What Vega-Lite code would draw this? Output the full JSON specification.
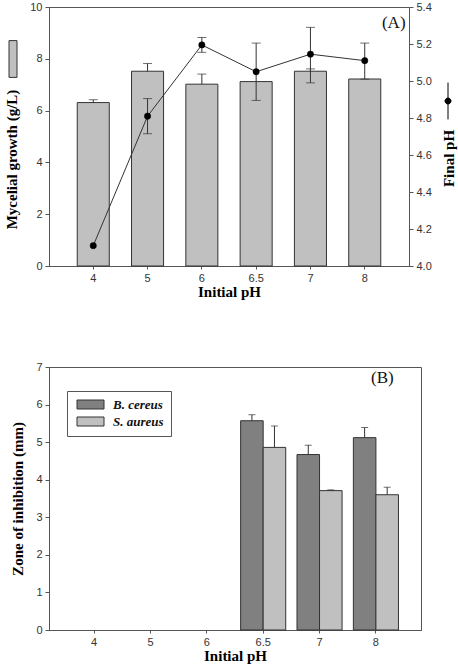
{
  "$schema": "https://vega.github.io/schema/vega-lite/v6.json",
  "padding": {"top": 0, "left": 4, "right": 0, "bottom": 0},
  "spacing": 60,
  "config": {
    "view": {"stroke": "#555", "strokeWidth": 1},
    "axis": {
      "grid": false,
      "labelFont": "Liberation Sans",
      "labelFontSize": 11,
      "labelColor": "#333",
      "labelOverlap": false,
      "titleFont": "Liberation Serif",
      "titleFontSize": 15,
      "titleFontWeight": "bold",
      "titleColor": "#000",
      "domainColor": "#555",
      "tickColor": "#555",
      "tickSize": 4,
      "labelPadding": 3
    }
  },
  "vconcat": [
    {
      "width": 360,
      "height": 259,
      "data": {
        "values": [
          {"pH": "4", "growth": 6.31, "growth_hi": 6.42, "final": 4.11, "final_lo": null, "final_hi": null},
          {"pH": "5", "growth": 7.52, "growth_hi": 7.82, "final": 4.81, "final_lo": 4.715, "final_hi": 4.905},
          {"pH": "6", "growth": 7.02, "growth_hi": 7.41, "final": 5.195, "final_lo": 5.155, "final_hi": 5.235},
          {"pH": "6.5", "growth": 7.12, "growth_hi": null, "final": 5.05, "final_lo": 4.895, "final_hi": 5.205},
          {"pH": "7", "growth": 7.52, "growth_hi": 7.61, "final": 5.145, "final_lo": 4.99, "final_hi": 5.29},
          {"pH": "8", "growth": 7.22, "growth_hi": null, "final": 5.11, "final_lo": 5.01, "final_hi": 5.205}
        ]
      },
      "encoding": {
        "x": {
          "field": "pH",
          "type": "nominal",
          "sort": null,
          "scale": {"paddingInner": 0.41, "paddingOuter": 0.52},
          "axis": {"title": "Initial pH", "labelAngle": 0, "tickSize": 3, "labelPadding": 3, "titlePadding": 1}
        }
      },
      "layer": [
        {
          "layer": [
            {
              "mark": {"type": "bar", "stroke": "#333", "strokeWidth": 1},
              "encoding": {
                "y": {
                  "field": "growth",
                  "type": "quantitative",
                  "title": "Mycelial growth (g/L)",
                  "scale": {"domain": [0, 10]},
                  "axis": {"values": [0, 2, 4, 6, 8, 10], "tickCount": 12, "format": "d", "labelOverlap": false, "titlePadding": 10, "titleY": 152}
                },
                "fill": {
                  "datum": "Mycelial growth",
                  "scale": {"range": ["#c0c0c0"]},
                  "legend": {
                    "orient": "none",
                    "legendX": -41,
                    "legendY": 47,
                    "title": null,
                    "labelExpr": "''",
                    "padding": 0,
                    "symbolType": "M-1,-4.6H1V4.6H-1Z",
                    "symbolSize": 64,
                    "symbolStrokeColor": "#333",
                    "symbolStrokeWidth": 1
                  }
                }
              }
            },
            {
              "mark": {"type": "rule", "color": "#333", "strokeWidth": 1},
              "encoding": {
                "y": {"field": "growth", "type": "quantitative", "title": "Mycelial growth (g/L)"},
                "y2": {"field": "growth_hi"}
              }
            },
            {
              "mark": {"type": "tick", "orient": "horizontal", "size": 9, "thickness": 1, "color": "#333"},
              "encoding": {
                "y": {"field": "growth_hi", "type": "quantitative", "title": "Mycelial growth (g/L)"}
              }
            },
            {
              "data": {"values": [{"label": "(A)"}]},
              "mark": {"type": "text", "font": "Liberation Serif", "fontSize": 17, "color": "#111", "dx": 29},
              "encoding": {
                "x": {"datum": "8"},
                "y": {"datum": 9.4, "type": "quantitative"},
                "text": {"field": "label"}
              }
            }
          ]
        },
        {
          "layer": [
            {
              "mark": {"type": "line", "color": "#333", "strokeWidth": 1},
              "encoding": {
                "y": {
                  "field": "final",
                  "type": "quantitative",
                  "title": "Final pH",
                  "scale": {"domain": [4.0, 5.4]},
                  "axis": {
                    "orient": "right",
                    "values": [4.0, 4.2, 4.4, 4.6, 4.8, 5.0, 5.2, 5.4],
                    "tickCount": 12,
                    "format": ".1f",
                    "labelOverlap": false,
                    "titleAngle": 270,
                    "titleY": 151,
                    "titlePadding": 25
                  }
                }
              }
            },
            {
              "mark": {"type": "rule", "color": "#333", "strokeWidth": 1},
              "encoding": {
                "y": {"field": "final_lo", "type": "quantitative", "title": "Final pH"},
                "y2": {"field": "final_hi"}
              }
            },
            {
              "mark": {"type": "tick", "orient": "horizontal", "size": 9, "thickness": 1, "color": "#333"},
              "encoding": {
                "y": {"field": "final_lo", "type": "quantitative", "title": "Final pH"}
              }
            },
            {
              "mark": {"type": "tick", "orient": "horizontal", "size": 9, "thickness": 1, "color": "#333"},
              "encoding": {
                "y": {"field": "final_hi", "type": "quantitative", "title": "Final pH"}
              }
            },
            {
              "mark": {"type": "point", "filled": true, "size": 40, "opacity": 1, "stroke": "#000", "strokeWidth": 0.5},
              "encoding": {
                "y": {"field": "final", "type": "quantitative", "title": "Final pH"},
                "fill": {
                  "datum": "Final pH",
                  "scale": {"range": ["#000"]},
                  "legend": {
                    "orient": "none",
                    "legendX": 394,
                    "legendY": 89,
                    "title": null,
                    "labelExpr": "''",
                    "padding": 0,
                    "symbolType": "M0,-4.6V4.6M0.75,0A0.75,0.75 0 1,1 -0.75,0A0.75,0.75 0 1,1 0.75,0Z",
                    "symbolSize": 64,
                    "symbolStrokeColor": "#000",
                    "symbolStrokeWidth": 1
                  }
                }
              }
            }
          ]
        }
      ],
      "resolve": {"scale": {"y": "independent", "fill": "independent"}, "legend": {"fill": "independent"}}
    },
    {
      "width": 372,
      "height": 263,
      "data": {
        "values": [
          {"pH": "6.5", "organism": "B. cereus", "zone": 5.57, "zone_hi": 5.73},
          {"pH": "6.5", "organism": "S. aureus", "zone": 4.86, "zone_hi": 5.43},
          {"pH": "7", "organism": "B. cereus", "zone": 4.67, "zone_hi": 4.92},
          {"pH": "7", "organism": "S. aureus", "zone": 3.71, "zone_hi": 3.73},
          {"pH": "8", "organism": "B. cereus", "zone": 5.12, "zone_hi": 5.39},
          {"pH": "8", "organism": "S. aureus", "zone": 3.6, "zone_hi": 3.8}
        ]
      },
      "encoding": {
        "x": {
          "field": "pH",
          "type": "nominal",
          "sort": null,
          "scale": {"domain": ["4", "5", "6", "6.5", "7", "8"], "paddingInner": 0.2, "paddingOuter": 0.4},
          "axis": {"title": "Initial pH", "labelAngle": 0, "tickSize": 3, "labelPadding": 3, "titlePadding": 1}
        },
        "xOffset": {"field": "organism", "type": "nominal", "scale": {"paddingInner": 0, "paddingOuter": 0}}
      },
      "layer": [
        {
          "mark": {"type": "bar", "stroke": "#333", "strokeWidth": 1},
          "encoding": {
            "y": {
              "field": "zone",
              "type": "quantitative",
              "title": "Zone of inhibition (mm)",
              "scale": {"domain": [0, 7]},
              "axis": {"values": [0, 1, 2, 3, 4, 5, 6, 7], "tickCount": 12, "format": "d", "labelOverlap": false, "titlePadding": 10}
            },
            "fill": {
              "field": "organism",
              "type": "nominal",
              "scale": {"domain": ["B. cereus", "S. aureus"], "range": ["#808080", "#c0c0c0"]},
              "legend": {
                "orient": "none",
                "legendX": 18,
                "legendY": 384,
                "title": null,
                "padding": 7,
                "strokeColor": "#555",
                "fillColor": "#fff",
                "symbolType": "M-3,-1H3V1H-3Z",
                "symbolSize": 81,
                "symbolOffset": 10,
                "symbolStrokeColor": "#333",
                "symbolStrokeWidth": 1,
                "labelFont": "Liberation Serif",
                "labelFontSize": 13,
                "labelFontStyle": "italic",
                "labelFontWeight": "bold",
                "labelColor": "#111",
                "labelOffset": 16,
                "rowPadding": 3
              }
            }
          }
        },
        {
          "mark": {"type": "rule", "color": "#333", "strokeWidth": 1},
          "encoding": {
            "y": {"field": "zone", "type": "quantitative", "title": "Zone of inhibition (mm)"},
            "y2": {"field": "zone_hi"}
          }
        },
        {
          "mark": {"type": "tick", "orient": "horizontal", "size": 7, "thickness": 1, "color": "#333"},
          "encoding": {
            "y": {"field": "zone_hi", "type": "quantitative", "title": "Zone of inhibition (mm)"}
          }
        },
        {
          "data": {"values": [{"label": "(B)"}]},
          "mark": {"type": "text", "font": "Liberation Serif", "fontSize": 17, "color": "#111", "dx": 29},
          "encoding": {
            "x": {"datum": "8"},
            "xOffset": {"value": 0},
            "y": {"datum": 6.7, "type": "quantitative"},
            "text": {"field": "label"}
          }
        }
      ]
    }
  ]
}
